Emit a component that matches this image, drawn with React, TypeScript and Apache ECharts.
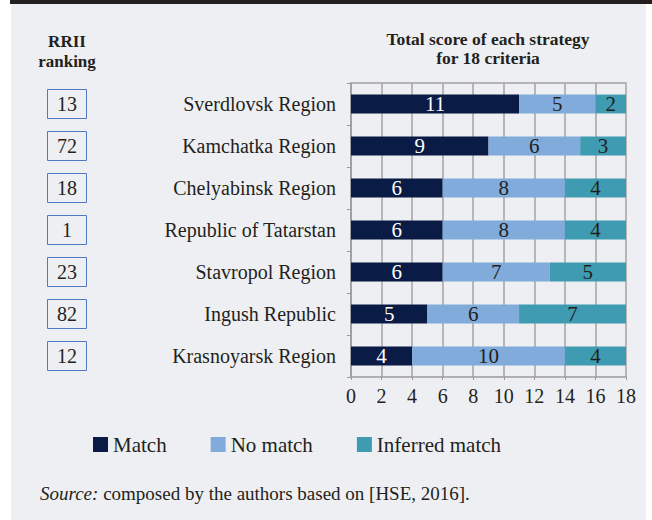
import React, { useEffect, useRef } from "react";
import * as echarts from "echarts";

const categories = [
  "Sverdlovsk Region",
  "Kamchatka Region",
  "Chelyabinsk Region",
  "Republic of Tatarstan",
  "Stavropol Region",
  "Ingush Republic",
  "Krasnoyarsk Region",
];
const rankings = ["13", "72", "18", "1", "23", "82", "12"];
const matchValues = [11, 9, 6, 6, 6, 5, 4];
const noMatchValues = [5, 6, 8, 8, 7, 6, 10];
const inferredValues = [2, 3, 4, 4, 5, 7, 4];
const seriesNames = ["Match", "No match", "Inferred match"];

const FONT = "'Liberation Serif', 'Times New Roman', serif";
const TEXT = "#231f20";

export default function App() {
  const ref = useRef<HTMLDivElement>(null);

  useEffect(() => {
    if (!ref.current) return;
    const chart = echarts.init(ref.current, null, { renderer: "svg" });
    const barLabel = (color: string) => ({
      show: true,
      position: "inside",
      color,
      fontFamily: FONT,
      fontSize: 21,
    });
    chart.setOption({
      animation: false,
      backgroundColor: "transparent",
      textStyle: { fontFamily: FONT },
      graphic: [
        {
          type: "text",
          x: 67,
          y: 31,
          style: {
            text: "RRII\nranking",
            textAlign: "center",
            textVerticalAlign: "top",
            fontFamily: FONT,
            fontWeight: "bold",
            fontSize: 17,
            lineHeight: 20,
            fill: TEXT,
          },
        },
        {
          type: "text",
          x: 488,
          y: 29,
          style: {
            text: "Total score of each strategy\nfor 18 criteria",
            textAlign: "center",
            textVerticalAlign: "top",
            fontFamily: FONT,
            fontWeight: "bold",
            fontSize: 17.5,
            lineHeight: 19,
            fill: TEXT,
          },
        },
        {
          type: "text",
          x: 40,
          y: 493,
          style: {
            text: "{i|Source:} composed by the authors based on [HSE, 2016].",
            textVerticalAlign: "middle",
            fontFamily: FONT,
            fontSize: 19,
            fill: TEXT,
            rich: {
              i: { fontStyle: "italic", fontFamily: FONT, fontSize: 19, fill: TEXT },
            },
          },
        },
      ],
      legend: {
        data: seriesNames,
        left: 93,
        top: 434,
        padding: 0,
        itemWidth: 15,
        itemHeight: 15,
        itemGap: 44,
        icon: "rect",
        textStyle: { fontFamily: FONT, fontSize: 21, color: TEXT },
      },
      grid: { left: 351, right: 26, top: 83, bottom: 143, containLabel: false },
      xAxis: [
        {
          type: "value",
          min: 0,
          max: 18,
          interval: 2,
          axisLine: { show: true, lineStyle: { color: "#9a9a9a", width: 1.5 } },
          axisTick: { show: true, length: 3, lineStyle: { color: "#9a9a9a" } },
          splitLine: { show: true, lineStyle: { color: "#a3a3a3", width: 1.5 } },
          axisLabel: { fontFamily: FONT, fontSize: 20, color: TEXT, margin: 9 },
        },
        {
          type: "value",
          position: "top",
          min: 0,
          max: 18,
          interval: 2,
          axisLine: { show: true, lineStyle: { color: "#a3a3a3", width: 1.5 } },
          axisTick: { show: false },
          splitLine: { show: false },
          axisLabel: { show: false },
        },
      ],
      yAxis: [
        {
          type: "category",
          data: categories,
          inverse: true,
          axisLine: { show: true, lineStyle: { color: "#9a9a9a", width: 1.5 } },
          axisTick: { show: true, length: 4, lineStyle: { color: "#9a9a9a" } },
          axisLabel: { fontFamily: FONT, fontSize: 20, color: TEXT, margin: 15 },
        },
        {
          type: "category",
          data: rankings,
          inverse: true,
          position: "left",
          offset: 284,
          axisLine: { show: false },
          axisTick: { show: false },
          splitLine: { show: false },
          axisLabel: {
            margin: 0,
            align: "center",
            verticalAlign: "middle",
            fontFamily: FONT,
            fontSize: 20,
            color: TEXT,
            width: 39,
            height: 29,
            lineHeight: 29,
            borderColor: "#4e79c4",
            borderWidth: 1,
            padding: 0,
          },
        },
      ],
      series: [
        {
          name: seriesNames[0],
          type: "bar",
          stack: "total",
          barWidth: "45%",
          data: matchValues,
          itemStyle: { color: "#0a1b45" },
          label: barLabel("#ffffff"),
        },
        {
          name: seriesNames[1],
          type: "bar",
          stack: "total",
          barWidth: "45%",
          data: noMatchValues,
          itemStyle: { color: "#80abdb" },
          label: barLabel(TEXT),
        },
        {
          name: seriesNames[2],
          type: "bar",
          stack: "total",
          barWidth: "45%",
          data: inferredValues,
          itemStyle: { color: "#3e9bb2" },
          label: barLabel(TEXT),
        },
      ],
    });
    return () => chart.dispose();
  }, []);

  return (
    <div
      style={{
        position: "fixed",
        left: 0,
        top: 0,
        width: 652,
        height: 520,
        background: "#ffffff",
        overflow: "hidden",
      }}
    >
      <div
        style={{
          position: "absolute",
          left: 11,
          top: 0,
          width: 635,
          height: 520,
          background: "#eeeff3",
        }}
      />
      <div
        style={{
          position: "absolute",
          left: 10,
          top: 0,
          width: 642,
          height: 4,
          background: "#231f20",
        }}
      />
      <div
        ref={ref}
        style={{ position: "absolute", left: 0, top: 0, width: 652, height: 520 }}
      />
    </div>
  );
}
